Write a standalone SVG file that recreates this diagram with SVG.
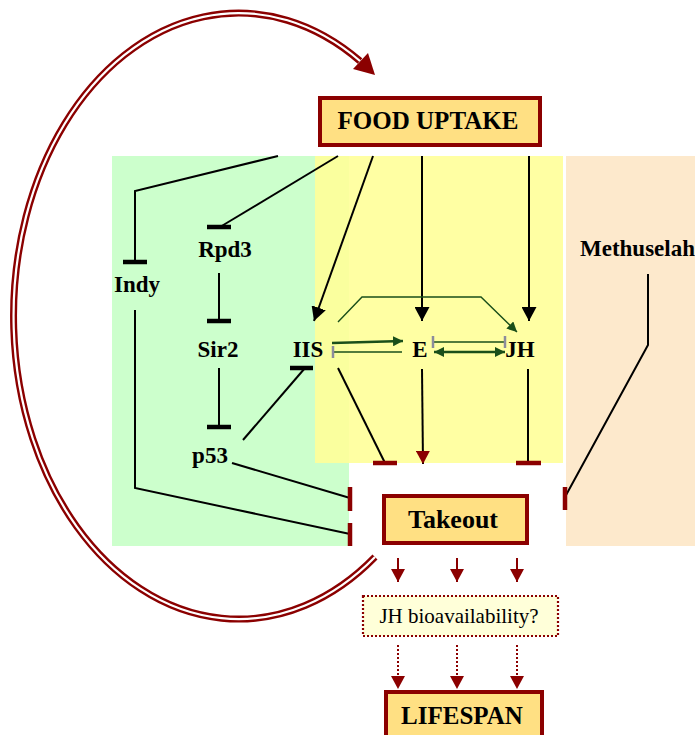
<svg xmlns="http://www.w3.org/2000/svg" width="695" height="735" viewBox="0 0 695 735">
<defs>
<style>
.lbl{font-family:"Liberation Serif","Times New Roman",serif;font-weight:bold;font-size:23px;fill:#000;text-anchor:middle}
.box{fill:#ffe083;stroke:#8b0000;stroke-width:4}
.big{font-family:"Liberation Serif","Times New Roman",serif;font-weight:bold;font-size:25px;fill:#000;text-anchor:middle}
.k{stroke:#000;stroke-width:2;fill:none}
.kb{stroke:#000;stroke-width:4.5;fill:none}
.g{stroke:#1a4f1a;stroke-width:2.5;fill:none}
.gt{stroke:#1a4f1a;stroke-width:1.4;fill:none}
.gy{stroke:#8c8c9c;stroke-width:2.5;fill:none}
.r{stroke:#8b0000;stroke-width:2;fill:none}
.rb{stroke:#8b0000;stroke-width:4.5;fill:none}
.rd{stroke:#8b0000;stroke-width:2;stroke-dasharray:2 2;fill:none}
</style>
<marker id="ak" markerUnits="userSpaceOnUse" markerWidth="15" markerHeight="15" refX="14" refY="7.5" orient="auto"><path d="M0,0 L14,7.5 L0,15 z" fill="#000"/></marker>
<marker id="ag" markerUnits="userSpaceOnUse" markerWidth="10" markerHeight="10" refX="10" refY="5" orient="auto-start-reverse"><path d="M0,0 L10,5 L0,10 z" fill="#1a4f1a"/></marker>
<marker id="ar" markerUnits="userSpaceOnUse" markerWidth="14" markerHeight="14" refX="13" refY="7" orient="auto"><path d="M0,0 L13,7 L0,14 z" fill="#8b0000"/></marker>
</defs>

<g id="regions">
<rect x="112" y="156" width="237" height="390" fill="#ccffcc"/>
<rect x="315" y="156" width="248" height="307" fill="#ffff99" fill-opacity="0.9"/>
<rect x="566" y="156" width="129" height="390" fill="#fde9cc"/>
</g>

<g id="connectors">
<path d="M375,557 A225,303 0 1 1 360,61" fill="none" stroke="#8b0000" stroke-width="7"/>
<path d="M375,557 A225,303 0 1 1 360,61" fill="none" stroke="#fff" stroke-width="2.2"/>
<polygon points="375,75 353,69 368,53" fill="#8b0000"/>

<polyline class="k" points="278,156 135,191 135,262"/>
<line class="kb" x1="123" y1="262" x2="147" y2="262"/>
<line class="k" x1="338" y1="156" x2="220" y2="227"/>
<line class="kb" x1="207" y1="227" x2="231" y2="227"/>
<line class="k" x1="219" y1="273" x2="219" y2="321"/>
<line class="kb" x1="207" y1="321" x2="231" y2="321"/>
<line class="k" x1="219" y1="368" x2="219" y2="427"/>
<line class="kb" x1="207" y1="427" x2="231" y2="427"/>
<line class="k" x1="243" y1="440" x2="305" y2="368"/>
<line class="kb" x1="290" y1="368" x2="313" y2="368"/>
<line class="k" x1="373" y1="156" x2="314" y2="321" marker-end="url(#ak)"/>
<line class="k" x1="422" y1="156" x2="422" y2="321" marker-end="url(#ak)"/>
<line class="k" x1="529" y1="156" x2="529" y2="321" marker-end="url(#ak)"/>
<polyline class="gt" points="338,322 362,297 481,297 517,332" marker-end="url(#ag)"/>
<line class="g" x1="332" y1="343" x2="403" y2="341" marker-end="url(#ag)"/>
<line class="gt" x1="402" y1="352" x2="333" y2="352" stroke-width="1.8"/>
<line class="gy" x1="333" y1="346" x2="333" y2="358"/>
<line class="gt" x1="433" y1="342" x2="505" y2="342" stroke="#8c8c9c"/>
<line class="gy" x1="433" y1="336" x2="433" y2="348"/>
<line class="gy" x1="505" y1="336" x2="505" y2="348"/>
<line class="g" x1="434" y1="352" x2="505" y2="352" marker-start="url(#ag)" marker-end="url(#ag)"/>
<line class="k" x1="338" y1="368" x2="385" y2="463"/>
<line class="rb" x1="373" y1="463" x2="397" y2="463"/>
<line class="k" x1="422" y1="369" x2="423" y2="464" marker-end="url(#ar)"/>
<line class="k" x1="528" y1="369" x2="528" y2="463"/>
<line class="rb" x1="516" y1="463" x2="541" y2="463"/>
<line class="k" x1="232" y1="463" x2="350" y2="498"/>
<line class="rb" x1="350" y1="487" x2="350" y2="511"/>
<polyline class="k" points="135,310 135,488 350,534"/>
<line class="rb" x1="350" y1="523" x2="350" y2="546"/>
<polyline class="k" points="648,274 648,345 565,497"/>
<line class="rb" x1="565" y1="487" x2="565" y2="510"/>
<line class="r" x1="398" y1="558" x2="398" y2="582" marker-end="url(#ar)"/>
<line class="r" x1="457" y1="558" x2="457" y2="582" marker-end="url(#ar)"/>
<line class="r" x1="517" y1="558" x2="517" y2="582" marker-end="url(#ar)"/>
<line class="rd" x1="398" y1="645" x2="398" y2="689" marker-end="url(#ar)"/>
<line class="rd" x1="457" y1="645" x2="457" y2="689" marker-end="url(#ar)"/>
<line class="rd" x1="517" y1="645" x2="517" y2="689" marker-end="url(#ar)"/>
</g>

<g id="food-uptake">
<rect class="box" x="320" y="98" width="220" height="47"/>
<text class="big" x="428" y="129">FOOD UPTAKE</text>
</g>
<g id="indy"><text class="lbl" x="137" y="292">Indy</text></g>
<g id="rpd3"><text class="lbl" x="225" y="257">Rpd3</text></g>
<g id="sir2"><text class="lbl" x="218" y="357">Sir2</text></g>
<g id="p53"><text class="lbl" x="210" y="463">p53</text></g>
<g id="iis"><text class="lbl" x="308" y="357">IIS</text></g>
<g id="e"><text class="lbl" x="420" y="357">E</text></g>
<g id="jh"><text class="lbl" x="520" y="357">JH</text></g>
<g id="methuselah"><text class="lbl" x="580" y="256" style="text-anchor:start">Methuselah</text></g>
<g id="takeout">
<rect class="box" x="384" y="496" width="143" height="47"/>
<text class="big" x="453" y="528" style="font-size:26px">Takeout</text>
</g>
<g id="jh-bioavailability">
<rect x="363" y="596" width="195" height="40" fill="#ffffd9" stroke="#8b0000" stroke-width="2.2" stroke-dasharray="2 2"/>
<text x="459" y="623" style="font-family:'Liberation Serif','Times New Roman',serif;font-size:21px;text-anchor:middle;fill:#000">JH bioavailability?</text>
</g>
<g id="lifespan">
<rect class="box" x="386" y="692" width="156" height="50"/>
<text class="big" x="462" y="724">LIFESPAN</text>
</g>
</svg>
